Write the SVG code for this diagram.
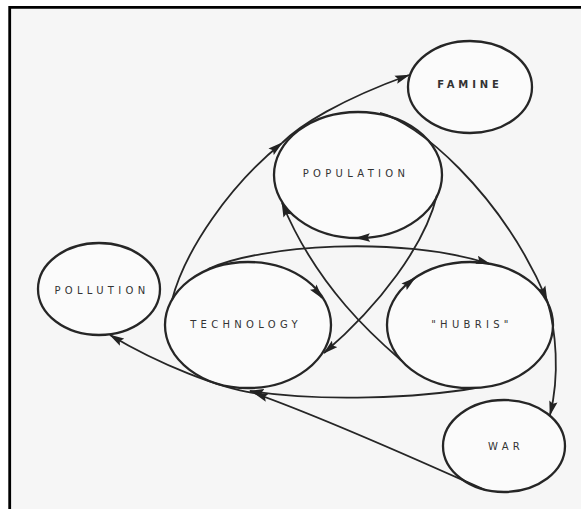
<svg xmlns="http://www.w3.org/2000/svg" width="581" height="509" viewBox="0 0 581 509">
<style>
.node{fill:#fbfbfb;stroke:#262626;stroke-width:2.3}
.lbl{font-family:"DejaVu Sans",sans-serif;font-size:10px;fill:#333333;letter-spacing:4.3px;text-anchor:middle}
.con{fill:none;stroke:#262626;stroke-width:1.8}
.frame{fill:none;stroke:#000;stroke-width:2.8}
</style>
<defs>
<marker id="ah" markerUnits="userSpaceOnUse" markerWidth="15" markerHeight="9" viewBox="0 0 15 9" refX="14" refY="4.5" orient="auto">
<path d="M0,0.3 L15,4.5 L0,8.7 L2.5,4.5 z" fill="#222"/>
</marker>
</defs>
<rect x="0" y="0" width="581" height="509" fill="#ffffff"/>
<rect x="9.7" y="7.3" width="572" height="502" fill="#f6f6f6"/>
<path class="frame" d="M9.7,509 L9.7,7.3 L581,7.3"/>

<g id="famine"><ellipse class="node" cx="470" cy="87" rx="62" ry="46"/><text class="lbl" x="470" y="87.5" style="font-weight:bold;letter-spacing:3.9px">FAMINE</text></g>
<g id="population"><ellipse class="node" cx="358" cy="175" rx="84" ry="63"/><text class="lbl" x="356" y="176.7">POPULATION</text></g>
<g id="technology"><ellipse class="node" cx="248" cy="325" rx="83" ry="63"/><text class="lbl" x="246" y="327.5">TECHNOLOGY</text></g>
<g id="hubris"><ellipse class="node" cx="470" cy="325" rx="83" ry="63"/><text class="lbl" x="472" y="327.5">"HUBRIS"</text></g>
<g id="pollution"><ellipse class="node" cx="99" cy="289" rx="61" ry="46"/><text class="lbl" x="102" y="294">POLLUTION</text></g>
<g id="war"><ellipse class="node" cx="504" cy="446" rx="61" ry="46"/><text class="lbl" x="506" y="449.5">WAR</text></g>

<g id="connectors">
<path class="con" marker-end="url(#ah)" d="M172,300 C185,250 230,185 282,143"/>
<path class="con" marker-end="url(#ah)" d="M282,143 C300,125 340,100 409,75"/>
<path class="con" marker-end="url(#ah)" d="M380,113 C415,121 500,190 547,300"/>
<path class="con" marker-end="url(#ah)" d="M547,300 C556,330 560,375 550,415"/>
<path class="con" marker-end="url(#ah)" d="M208,269 C260,245 400,235 490,264"/>
<path class="con" marker-end="url(#ah)" d="M475,388 C420,398 320,402 250,391"/>
<path class="con" marker-end="url(#ah)" d="M485,490 C440,470 330,420 254,393"/>
<path class="con" marker-end="url(#ah)" d="M254,393 C220,388 160,365 110,335"/>
<path class="con" marker-end="url(#ah)" d="M402,361 C380,342 318,290 282,203"/>
<path class="con" marker-end="url(#ah)" d="M437,195 C425,245 380,305 324,353"/>
<path class="con" marker-end="url(#ah)" d="M368,237.6 L356,238"/>
<path class="con" marker-end="url(#ah)" d="M317,291.8 L322,298"/>
<path class="con" marker-end="url(#ah)" d="M408.8,283 L415,278"/>
</g>
</svg>
